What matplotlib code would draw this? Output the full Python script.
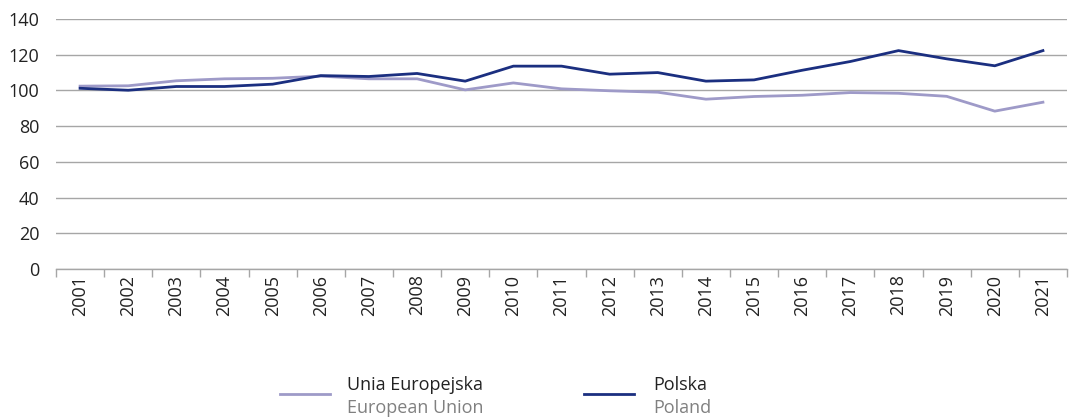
import numpy as np
import matplotlib.pyplot as plt
from matplotlib.lines import Line2D

plt.rcParams['font.family'] = ['Open Sans', 'DejaVu Sans']

# data
years = [str(y) for y in range(2001, 2022)]
eu = [102.4, 102.6, 105.4, 106.5, 106.8, 108.0, 106.5, 106.5, 100.3, 104.2,
      100.9, 99.8, 99.0, 95.1, 96.6, 97.3, 98.8, 98.4, 96.7, 88.4, 93.4]
pl = [101.2, 100.1, 102.2, 102.2, 103.5, 108.3, 107.8, 109.5, 105.2, 113.6,
      113.6, 109.1, 110.0, 105.2, 105.9, 111.3, 116.2, 122.3, 117.7, 113.8, 122.3]
yticks = [0, 20, 40, 60, 80, 100, 120, 140]

EU_COL = "#9e9ac8"
PL_COL = "#1b2f80"
GRID = "#a6a6a6"

W, H = 1071, 417
fig = plt.figure(figsize=(W / 100, H / 100), dpi=100, facecolor="w")
ax = fig.add_axes([56 / W, 1 - 269 / H, (1067 - 56) / W, 250 / H])

x = np.arange(len(years))
ax.plot(x, eu, color=EU_COL, lw=2.0, solid_joinstyle="round")
ax.plot(x, pl, color=PL_COL, lw=2.0, solid_joinstyle="round")

ax.set_xlim(-0.5, len(years) - 0.5)
ax.set_ylim(0, 140)
ax.set_yticks(yticks)
ax.yaxis.grid(True, color=GRID, lw=1)
ax.set_axisbelow(True)
ax.tick_params(axis="y", length=0, pad=12, labelsize=13, labelcolor="#222222")

ax.set_xticks(x)
ax.set_xticklabels(years, rotation=90, fontsize=13, color="#222222")
ax.set_xticks(np.arange(-0.5, len(years) - 0.4, 1), minor=True)
ax.tick_params(axis="x", which="major", length=0, pad=4)
ax.tick_params(axis="x", which="minor", length=6, color=GRID, width=1)

for s in ["top", "right", "left"]:
    ax.spines[s].set_visible(False)
ax.spines["bottom"].set_color(GRID)
ax.spines["bottom"].set_linewidth(1)

# legend drawn by hand: two-line labels with grey English subtitle
items = [(280, 330, 347, EU_COL, "Unia Europejska", "European Union"),
         (584, 634, 653, PL_COL, "Polska", "Poland")]
for x0, x1, tx, col, pl_lab, en_lab in items:
    fig.add_artist(Line2D([x0 / W, x1 / W], [1 - 394 / H, 1 - 394 / H],
                          color=col, lw=2.0, transform=fig.transFigure))
    fig.text(tx / W, 1 - 385 / H, pl_lab, fontsize=13, color="#222222", va="center")
    fig.text(tx / W, 1 - 408 / H, en_lab, fontsize=13, color="#808080", va="center")

fig.savefig("out.png", dpi=100, facecolor="w")
plt.close()
